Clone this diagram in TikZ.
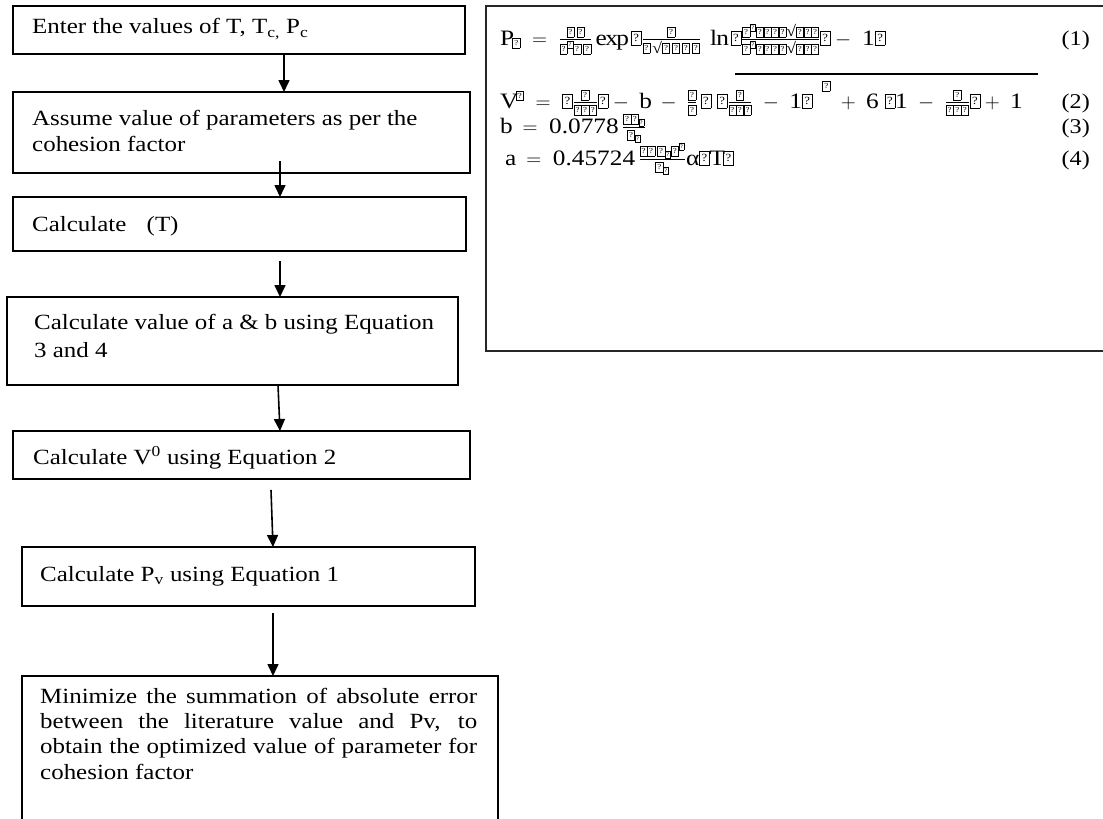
\documentclass[tikz,border=0pt]{standalone}
\usepackage{amsmath}
\usepackage{graphicx}
\usepackage{fontspec}
\setmainfont{Liberation Serif}[FakeStretch=1.15]
\usetikzlibrary{arrows.meta,calc}
\newcommand{\qglyph}{{\setlength{\fboxsep}{0pt}\setlength{\fboxrule}{0.4pt}\fbox{\parbox[b][0.62em][c]{0.44em}{\centering\scalebox{0.5}{?}}}}}
\newcommand{\qb}{\text{\qglyph}}
\newcommand{\tx}[1]{\text{#1}}
\tikzset{
  stepbox/.style={draw, line width=1.3pt, anchor=north west, inner sep=0pt, outer sep=0pt},
  lbl/.style={anchor=base west, inner sep=0pt, font=\fontsize{21.7}{25}\selectfont},
  eqn/.style={anchor=base west, inner sep=0pt, font=\fontsize{22}{26}\selectfont},
  eqnum/.style={anchor=base east, inner sep=0pt, font=\fontsize{21}{25}\selectfont},
  arr/.style={line width=1.6pt, -{Triangle[length=12pt,width=11pt]}},
}
\begin{document}
\begin{tikzpicture}[x=1pt,y=-1pt]
\useasboundingbox (0,0) rectangle (1103,819);
\clip (0,0) rectangle (1103,819);
\fill[white] (0,0) rectangle (1103,819);

% flowchart boxes
\node[stepbox, minimum width=452pt, minimum height=48pt] (b1) at (13,6) {};
\node[stepbox, minimum width=457pt, minimum height=81pt] (b2) at (13,92) {};
\node[stepbox, minimum width=453pt, minimum height=54pt] (b3) at (13,197) {};
\node[stepbox, minimum width=451pt, minimum height=88pt] (b4) at (7,297) {};
\node[stepbox, minimum width=457pt, minimum height=48pt] (b5) at (13,431) {};
\node[stepbox, minimum width=453pt, minimum height=59pt] (b6) at (22,547) {};
\node[stepbox, minimum width=476pt, minimum height=170pt] (b7) at (22,676) {};

% texts
\node[lbl] (t1) at (32,34) {Enter the values of T, T\textsubscript{c,} P\textsubscript{c}};
\node[lbl] (t2a) at (32,125) {Assume value of parameters as per the};
\node[lbl] (t2b) at (32,151) {cohesion factor};
\node[lbl] (t3) at (32,231) {Calculate\hspace{14pt} (T)};
\node[lbl] (t4a) at (34,329) {Calculate value of a \& b using Equation};
\node[lbl] (t4b) at (34,357) {3 and 4};
\node[lbl] (t5) at (33,464) {Calculate V\textsuperscript{0} using Equation 2};
\node[lbl] (t6) at (40,581) {Calculate P\textsubscript{v} using Equation 1};
\node[lbl] (t7a) at (40,703) {\makebox[437pt][s]{Minimize the summation of absolute error}};
\node[lbl] (t7b) at (40,728) {\makebox[437pt][s]{between the literature value and Pv, to}};
\node[lbl] (t7c) at (40,753) {\makebox[437pt][s]{obtain the optimized value of parameter for}};
\node[lbl] (t7d) at (40,779) {cohesion factor};

% arrows
\draw[arr] ($(b1.south west)+(271,0)$) -- ($(b2.north west)+(271,0)$);
\draw[arr] ($(b2.south west)+(267,-12)$) -- ($(b3.north west)+(267,0)$);
\draw[arr] ($(b3.south west)+(267,10)$) -- ($(b4.north west)+(273,0)$);
\draw[arr] ($(b4.south west)+(271,0)$) -- ($(b5.north west)+(267,0)$);
\draw[arr] ($(b5.south west)+(258,11)$) -- ($(b6.north west)+(251,0)$);
\draw[arr] ($(b6.south west)+(251,7)$) -- ($(b7.north west)+(251,0)$);

% equation box
\node[stepbox, draw=black!85, line width=2.4pt, minimum width=640pt, minimum height=345pt] (eqbox) at (486,6) {};

\node[eqn] (e1) at (500,45) {$\mathrm{P}_{\qb}\;=\;\frac{\qb\,\qb}{\qb^{\qb}\qb\,\qb}\exp\qb\frac{\qb}{\qb\,\text{√}\qb\,\qb\,\qb\,\qb}\;\ln\qb\frac{\qb^{\qb}\qb\qb\qb\qb\text{√}\qb\qb\qb}{\qb^{\qb}\qb\qb\qb\qb\text{√}\qb\qb\qb}\qb-\tx{ 1}\qb$};
\node[eqn] (e2) at (500,108) {$\mathrm{V}^{\qb}\;=\;\qb\frac{\qb}{\qb\qb\qb}\qb-\;\mathrm{b}\;-\;\frac{\qb}{\qb}\,\qb\;\qb\frac{\qb}{\qb\qb\qb}\;-\;\tx{1}\qb^{\hspace{10pt}\raisebox{9pt}{$\scriptstyle\qb$}}\;+\;\tx{6}\;\qb\tx{1}\;-\;\frac{\qb}{\qb\qb\qb}\qb+\;\tx{1}$};
\node[eqn] (e3) at (500,133) {$\mathrm{b}\;=\;\tx{0.0778}\,\frac{\qb\qb_{\qb}}{\qb_{\qb}}$};
\node[eqn] (e4) at (505,165) {$\mathrm{a}\;=\;\tx{0.45724}\,\frac{\qb\qb\,\qb_{\qb}\qb^{\qb}}{\qb_{\qb}}\text{α}\qb\mathrm{T}\qb$};
\node[eqnum] (n1) at (1090,45) {(1)};
\node[eqnum] (n2) at (1090,108) {(2)};
\node[eqnum] (n3) at (1090,133) {(3)};
\node[eqnum] (n4) at (1090,165) {(4)};
\coordinate (ul1) at (735,74);
\coordinate (ul2) at (1038,74);
\draw[line width=1.5pt] (ul1) -- (ul2);
\end{tikzpicture}
\end{document}
